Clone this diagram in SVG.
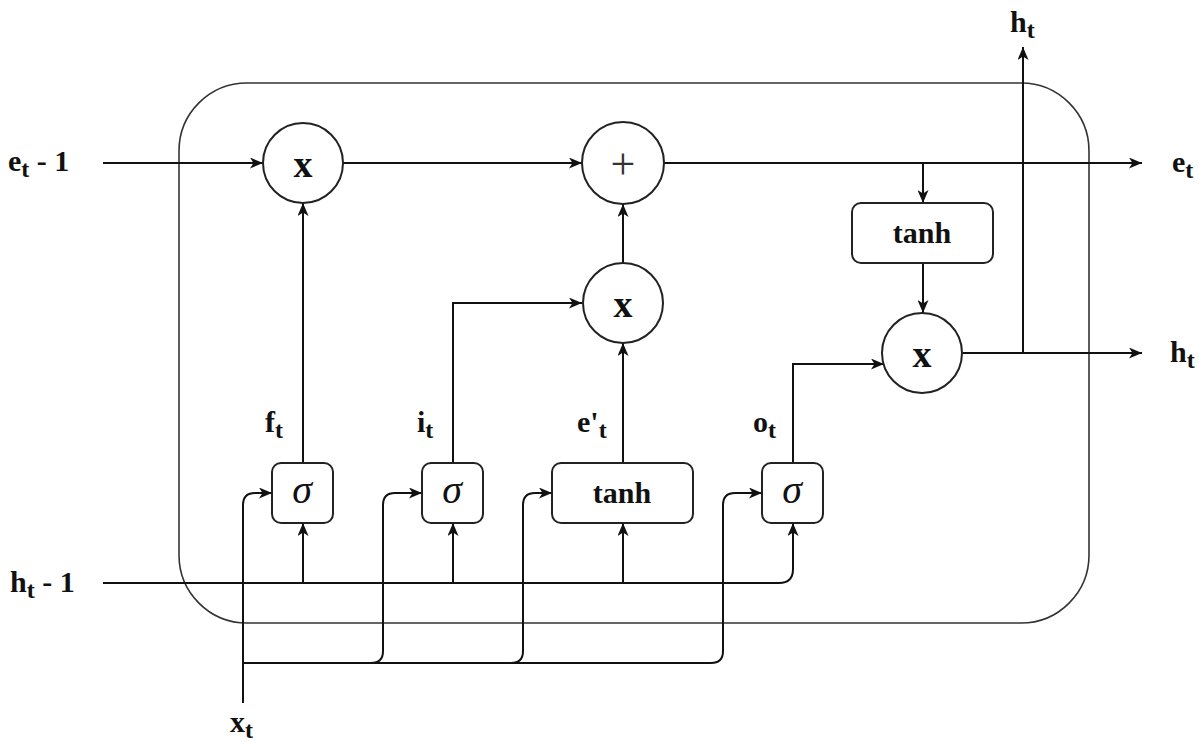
<svg xmlns="http://www.w3.org/2000/svg" width="1199" height="742" viewBox="0 0 1199 742">
<style>
.edge{fill:none;stroke:#111;stroke-width:2}
.arr{marker-end:url(#ah)}
.node{fill:#fff;stroke:#222;stroke-width:2}
.lbl{font-family:"Liberation Serif","DejaVu Serif",serif;font-weight:bold;font-size:30px;fill:#111}
.sub{font-size:24px}
.op{font-family:"Liberation Serif","DejaVu Serif",serif;font-weight:bold;font-size:38px;fill:#111;text-anchor:middle}
.plus{font-family:"Liberation Serif","DejaVu Serif",serif;font-weight:normal;font-size:44px;fill:#333;text-anchor:middle}
.sig{font-family:"Liberation Serif","DejaVu Serif",serif;font-style:italic;font-size:40px;fill:#111;text-anchor:middle}
.fn{font-family:"Liberation Serif","DejaVu Serif",serif;font-weight:bold;font-size:30px;fill:#111;text-anchor:middle}
</style>
<defs>
<marker id="ah" viewBox="0 0 13 11" refX="13" refY="5.5" markerWidth="13" markerHeight="11" markerUnits="userSpaceOnUse" orient="auto">
<path d="M0,0 L13,5.5 L0,11 L3.5,5.5 Z" fill="#111"/>
</marker>
</defs>
<rect width="1199" height="742" fill="#fff"/>
<g id="cell">
<rect x="179" y="83" width="910" height="540" rx="68" ry="68" fill="none" stroke="#333" stroke-width="1.6"/>
</g>
<g id="connectors">
<path class="edge arr" d="M103,163 H263"/>
<path class="edge arr" d="M343,163 H582"/>
<path class="edge arr" d="M664,163 H1142"/>
<path class="edge arr" d="M923,163 V203"/>
<path class="edge arr" d="M923,263 V313"/>
<path class="edge arr" d="M963,353 H1142"/>
<path class="edge arr" d="M1023,353 V47"/>
<path class="edge arr" d="M303,463 V203"/>
<path class="edge arr" d="M453,463 V303 H582"/>
<path class="edge arr" d="M623,463 V343"/>
<path class="edge arr" d="M623,263 V204"/>
<path class="edge arr" d="M793,463 V364 H884"/>
<path class="edge arr" d="M103,583 H779 Q793,583 793,569 V523"/>
<path class="edge arr" d="M303,583 V523"/>
<path class="edge arr" d="M453,583 V523"/>
<path class="edge arr" d="M623,583 V523"/>
<path class="edge arr" d="M243,703 V505 Q243,493 255,493 H272"/>
<path class="edge arr" d="M243,663 H371 Q383,663 383,651 V505 Q383,493 395,493 H422"/>
<path class="edge arr" d="M243,663 H511 Q523,663 523,651 V505 Q523,493 535,493 H552"/>
<path class="edge arr" d="M243,663 H711 Q723,663 723,651 V505 Q723,493 735,493 H762"/>
</g>
<g id="mul-forget">
<circle class="node" cx="303" cy="163" r="40"/>
<text class="op" x="303" y="177">x</text>
</g>
<g id="add">
<circle class="node" cx="623" cy="163" r="41"/>
<text class="plus" x="623" y="179">+</text>
</g>
<g id="mul-input">
<circle class="node" cx="623" cy="303" r="40"/>
<text class="op" x="623" y="317">x</text>
</g>
<g id="mul-output">
<circle class="node" cx="922" cy="353" r="40"/>
<text class="op" x="922" y="367">x</text>
</g>
<g id="tanh-out">
<rect class="node" x="852" y="203" width="141" height="60" rx="9"/>
<text class="fn" x="922" y="243">tanh</text>
</g>
<g id="sigma-f">
<rect class="node" x="272" y="463" width="61" height="60" rx="9"/>
<text class="sig" x="302" y="503">σ</text>
</g>
<g id="sigma-i">
<rect class="node" x="422" y="463" width="61" height="60" rx="9"/>
<text class="sig" x="452" y="503">σ</text>
</g>
<g id="tanh-cand">
<rect class="node" x="552" y="463" width="141" height="60" rx="9"/>
<text class="fn" x="622" y="503">tanh</text>
</g>
<g id="sigma-o">
<rect class="node" x="762" y="463" width="61" height="60" rx="9"/>
<text class="sig" x="792" y="503">σ</text>
</g>
<g id="labels">
<text class="lbl" x="8" y="171">e<tspan class="sub" dy="6">t</tspan><tspan dy="-6"> - 1</tspan></text>
<text class="lbl" x="10" y="592">h<tspan class="sub" dy="6">t</tspan><tspan dy="-6"> - 1</tspan></text>
<text class="lbl" x="230" y="732">x<tspan class="sub" dy="6">t</tspan></text>
<text class="lbl" x="1010" y="32">h<tspan class="sub" dy="6">t</tspan></text>
<text class="lbl" x="1172" y="172">e<tspan class="sub" dy="6">t</tspan></text>
<text class="lbl" x="1170" y="362">h<tspan class="sub" dy="6">t</tspan></text>
<text class="lbl" x="265" y="432">f<tspan class="sub" dy="6">t</tspan></text>
<text class="lbl" x="417" y="432">i<tspan class="sub" dy="6">t</tspan></text>
<text class="lbl" x="577" y="432">e'<tspan class="sub" dy="6">t</tspan></text>
<text class="lbl" x="753" y="432">o<tspan class="sub" dy="6">t</tspan></text>
</g>
</svg>
